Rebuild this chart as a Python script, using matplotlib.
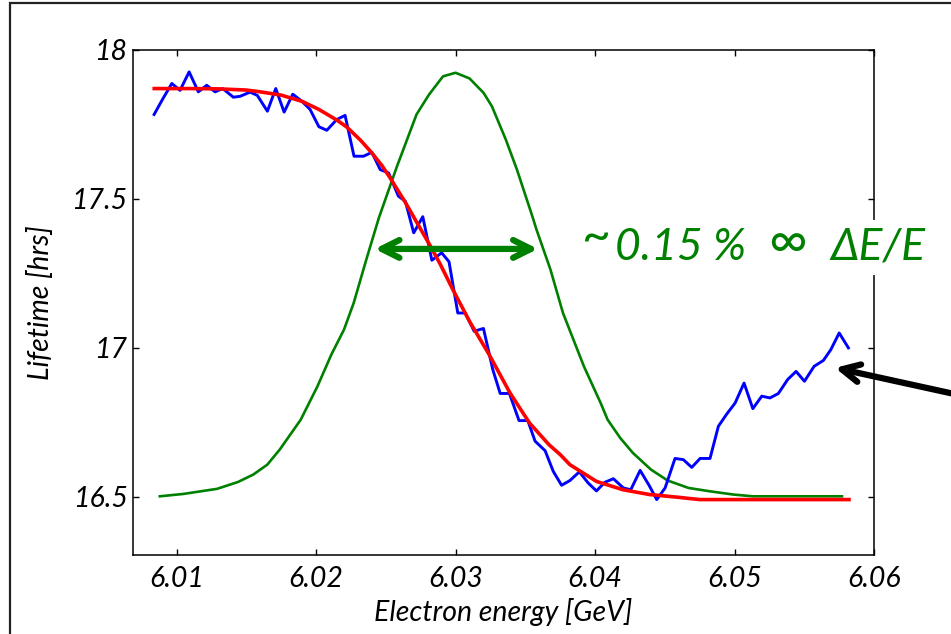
import matplotlib
matplotlib.use("Agg")
import matplotlib.pyplot as plt
from matplotlib.patches import Rectangle

plt.rcParams['font.family'] = ['Lato', 'DejaVu Sans']

# measured lifetime (blue)
energy_meas = [6.00839, 6.00902, 6.00966, 6.01025, 6.01090, 6.01156, 6.01216, 6.01276,
               6.01331, 6.01407, 6.01455, 6.01527, 6.01579, 6.01651, 6.01711, 6.01771,
               6.01833, 6.01897, 6.01957, 6.02020, 6.02077, 6.02148, 6.02208, 6.02272,
               6.02340, 6.02400, 6.02460, 6.02520, 6.02590, 6.02640, 6.02700, 6.02765,
               6.02830, 6.02900, 6.02953, 6.03016, 6.03070, 6.03133, 6.03200, 6.03267,
               6.03320, 6.03386, 6.03455, 6.03518, 6.03570, 6.03642, 6.03700, 6.03760,
               6.03820, 6.03887, 6.03950, 6.04010, 6.04070, 6.04131, 6.04203, 6.04256,
               6.04323, 6.04387, 6.04442, 6.04502, 6.04573, 6.04633, 6.04693, 6.04753,
               6.04824, 6.04884, 6.04944, 6.05004, 6.05068, 6.05131, 6.05195, 6.05254,
               6.05314, 6.05381, 6.05441, 6.05501, 6.05570, 6.05637, 6.05690, 6.05750,
               6.05816]
lifetime_meas = [17.782, 17.835, 17.886, 17.863, 17.925, 17.858, 17.880, 17.858,
                 17.869, 17.840, 17.843, 17.857, 17.846, 17.793, 17.869, 17.790,
                 17.850, 17.827, 17.799, 17.741, 17.729, 17.765, 17.779, 17.642,
                 17.642, 17.655, 17.597, 17.586, 17.508, 17.491, 17.385, 17.439,
                 17.293, 17.318, 17.288, 17.116, 17.116, 17.055, 17.064, 16.926,
                 16.846, 16.846, 16.755, 16.755, 16.686, 16.654, 16.585, 16.538,
                 16.554, 16.583, 16.546, 16.519, 16.548, 16.560, 16.529, 16.523,
                 16.588, 16.538, 16.490, 16.529, 16.628, 16.624, 16.598, 16.628,
                 16.628, 16.736, 16.777, 16.814, 16.881, 16.795, 16.837, 16.831,
                 16.846, 16.893, 16.920, 16.887, 16.937, 16.957, 16.993, 17.049,
                 16.999]

# fitted curve (red)
energy_fit = [6.0084, 6.0110, 6.0130, 6.0150, 6.0160, 6.0175, 6.0190, 6.0202, 6.0215,
              6.0222, 6.0232, 6.0240, 6.0247, 6.0253, 6.0264, 6.0282, 6.0289, 6.0298,
              6.0310, 6.0324, 6.0339, 6.0353, 6.0367, 6.0375, 6.0382, 6.0401, 6.0420,
              6.0439, 6.0459, 6.0475, 6.0582]
lifetime_fit = [17.869, 17.869, 17.868, 17.864, 17.858, 17.847, 17.826, 17.799, 17.763,
                17.740, 17.695, 17.653, 17.612, 17.570, 17.487, 17.340, 17.280, 17.195,
                17.088, 16.977, 16.848, 16.747, 16.674, 16.641, 16.607, 16.551, 16.523,
                16.507, 16.498, 16.490, 16.490]

# energy distribution (green)
energy_dist = [6.0088, 6.0105, 6.0129, 6.0144, 6.0155, 6.0165, 6.0174, 6.0189, 6.0201,
               6.0211, 6.0220, 6.0227, 6.0236, 6.0245, 6.0258, 6.0272, 6.0281, 6.0291,
               6.0300, 6.0310, 6.0320, 6.0326, 6.0336, 6.0344, 6.0355, 6.0358, 6.0368,
               6.0377, 6.0392, 6.0404, 6.0409, 6.0418, 6.0427, 6.0440, 6.0452, 6.0467,
               6.0482, 6.0499, 6.0513, 6.0577]
dist_level = [16.501, 16.509, 16.526, 16.549, 16.574, 16.607, 16.658, 16.758, 16.870,
              16.977, 17.060, 17.150, 17.295, 17.435, 17.608, 17.782, 17.849, 17.910,
              17.922, 17.903, 17.855, 17.810, 17.698, 17.597, 17.441, 17.396, 17.262,
              17.116, 16.937, 16.814, 16.758, 16.697, 16.647, 16.591, 16.554, 16.529,
              16.518, 16.507, 16.501, 16.501]

x_ticks = [6.01, 6.02, 6.03, 6.04, 6.05, 6.06]
x_labels = ['6.01', '6.02', '6.03', '6.04', '6.05', '6.06']
y_ticks = [16.5, 17, 17.5, 18]
y_labels = ['16.5', '17', '17.5', '18']

green = '#008000'

fig = plt.figure(figsize=(9.51, 6.34), dpi=100)
ax = fig.add_axes([0.1399, 0.1241, 0.7792, 0.7978])

ax.plot(energy_dist, dist_level, color=green, lw=1.9, zorder=2)
ax.plot(energy_meas, lifetime_meas, color='#0000ff', lw=2.1, zorder=2.1)
ax.plot(energy_fit, lifetime_fit, color='#ff0000', lw=2.6, zorder=2.2)

ax.set_xlim(6.00688, 6.06)
ax.set_ylim(16.303, 18.0)
ax.set_xticks(x_ticks)
ax.set_xticklabels(x_labels, style='italic', fontsize=20.5)
ax.set_yticks(y_ticks)
ax.set_yticklabels(y_labels, style='italic', fontsize=20.5)
ax.tick_params(direction='in', length=4, width=1, top=True, right=True)
ax.tick_params(axis='x', pad=8)
ax.tick_params(axis='y', pad=4)
for s in ax.spines.values():
    s.set_linewidth(1.1)

ax.set_xlabel('Electron energy [GeV]', style='italic', fontsize=20.5, va='center')
ax.set_ylabel('Lifetime [hrs]', style='italic', fontsize=20.5, va='center')
ax.xaxis.set_label_coords(0.5, -0.112)
ax.yaxis.set_label_coords(-0.1255, 0.5)

# width arrow
ax.annotate('', xy=(6.0242, 17.331), xytext=(6.0359, 17.331),
            arrowprops=dict(arrowstyle='<->', color=green, lw=4.5, mutation_scale=32,
                            shrinkA=0, shrinkB=0))

# annotation text
ax.text(6.03905, 17.318, '~', color=green, fontsize=36, va='baseline', ha='left')
ax.text(6.04140, 17.295, '0.15 %', color=green, fontsize=32, style='italic',
        va='baseline', ha='left')
ax.text(6.05240, 17.300, '\u221e', color=green, fontsize=38, va='baseline', ha='left')
ax.text(6.05685, 17.295, '\u0394E/E', color=green, fontsize=32, style='italic',
        va='baseline', ha='left', zorder=5, clip_on=False,
        bbox=dict(facecolor='white', edgecolor='none', pad=5))

# black arrow coming from outside the frame
ax.annotate('', xy=(6.0572, 16.932), xycoords='data',
            xytext=(1.06, 0.360), textcoords='figure fraction',
            arrowprops=dict(arrowstyle='->', color='black', lw=4.5, mutation_scale=32,
                            shrinkA=0, shrinkB=0),
            annotation_clip=False)

# outer frame
fig.patches.append(Rectangle((10 / 951, -0.1), 1.2, 0.9948 + 0.1, transform=fig.transFigure,
                             fill=False, edgecolor='#222222', lw=1.6, clip_on=False))

fig.savefig('out.png', dpi=100)
